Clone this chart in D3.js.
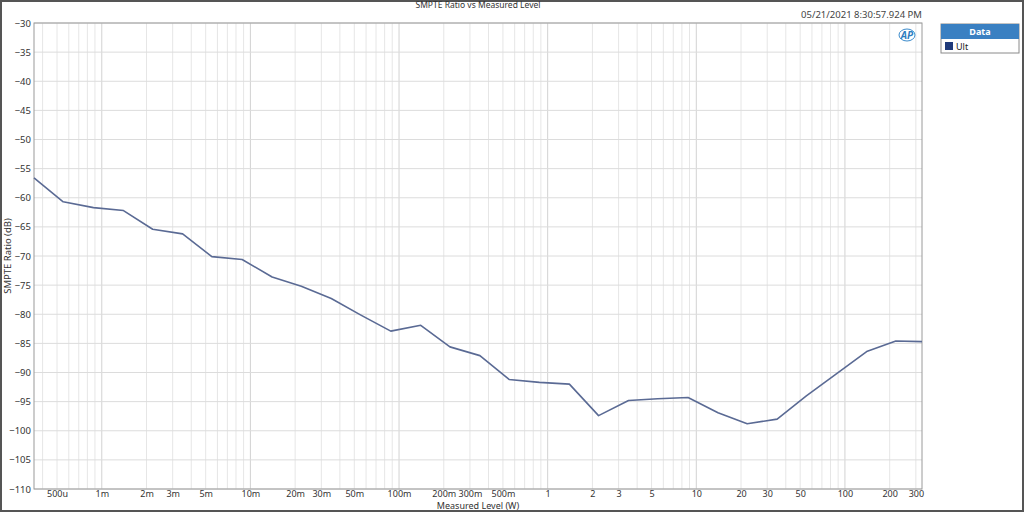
<!DOCTYPE html>
<html>
<head>
<meta charset="utf-8">
<script src="https://cdn.jsdelivr.net/npm/d3@7"></script>
<style>
	html, body { margin: 0; padding: 0; background: #fff; }
	svg { display: block; font-family: "Noto Sans", "Open Sans", sans-serif; }
</style>
</head>
<body>
<svg id="chart" width="1024" height="512"></svg>
<script>
(function (d3) {
	"use strict";

	/***** Data *****/

	// Measured level (W)
	var levels = [0.00035, 0.00055, 0.00088, 0.0014, 0.0022, 0.0035, 0.0055, 0.0088,
		0.014, 0.022, 0.035, 0.055, 0.088, 0.14, 0.22, 0.35, 0.55, 0.88,
		1.4, 2.2, 3.5, 5.5, 8.8, 14, 22, 35, 55, 88, 140, 220, 330];

	// SMPTE ratio (dB), series "Ult"
	var ratioUlt = [-56.6, -60.7, -61.7, -62.2, -65.4, -66.2, -70.1, -70.6,
		-73.6, -75.2, -77.3, -80.1, -82.9, -81.9, -85.6, -87.1, -91.2, -91.7,
		-92.0, -97.4, -94.8, -94.5, -94.3, -96.9, -98.8, -98.0, -94.0, -90.2, -86.4, -84.6, -84.7];

	// Tick labels
	var xTicks = [0.0005, 0.001, 0.002, 0.003, 0.005, 0.01, 0.02, 0.03, 0.05,
		0.1, 0.2, 0.3, 0.5, 1, 2, 3, 5, 10, 20, 30, 50, 100, 200, 300];
	var yTicks = [-30, -35, -40, -45, -50, -55, -60, -65, -70, -75, -80,
		-85, -90, -95, -100, -105, -110];

	var seriesNames = ["Ult"];
	var seriesColors = ["#1f3a7a"];

	/***** Layout *****/
	var svg = d3.select("#chart");
	const left = 34, right = 922, top = 23, bottom = 489;

	var x = d3.scaleLog().domain([0.00035, 330]).range([left, right]);
	var y = d3.scaleLinear().domain([-110, -30]).range([bottom, top]);

	// Label in SI units: u, m or plain
	function siLabel(v) {
		if (v < 0.001) return Math.round(v * 1e6) + "u";
		if (v < 1) return Math.round(v * 1e3) + "m";
		return String(v);
	}

	/***** Outer frame *****/
	svg.append("rect")
		.attr("x", 1).attr("y", 1).attr("width", 1022).attr("height", 510)
		.attr("fill", "none").attr("stroke", "#555").attr("stroke-width", 2);

	/***** Grid *****/
	var minor = [];
	for (var e = -4; e <= 2; e++) {
		for (var m = 1; m <= 9; m++) {
			var v = m * Math.pow(10, e);
			if (v >= 0.00035 && v <= 330) minor.push(v);
		}
	}

	var grid = svg.append("g");
	grid.selectAll("line.vx").data(minor).enter().append("line")
		.attr("x1", function (d) { return x(d); })
		.attr("x2", function (d) { return x(d); })
		.attr("y1", top).attr("y2", bottom)
		.attr("stroke", function (d) {
			var l = Math.log10(d);
			return Math.abs(l - Math.round(l)) < 1e-9 ? "#d2d2d2" : "#e6e6e6";
		})
		.attr("stroke-width", 1);

	grid.selectAll("line.hy").data(yTicks).enter().append("line")
		.attr("x1", left).attr("x2", right)
		.attr("y1", function (d) { return y(d); })
		.attr("y2", function (d) { return y(d); })
		.attr("stroke", "#dcdcdc").attr("stroke-width", 1);

	svg.append("rect")
		.attr("x", left).attr("y", top)
		.attr("width", right - left).attr("height", bottom - top)
		.attr("fill", "none").attr("stroke", "#9a9a9a").attr("stroke-width", 1);

	/***** Axes *****/
	var xAxis = d3.axisBottom(x).tickValues(xTicks).tickFormat(siLabel).tickSize(0).tickPadding(2);
	var gx = svg.append("g").attr("transform", "translate(0," + bottom + ")").call(xAxis);
	gx.select(".domain").remove();
	gx.selectAll("text").attr("fill", "#333").style("font-size", "9px")
		.style("font-family", "\"Noto Sans\", sans-serif");

	var yAxis = d3.axisLeft(y).tickValues(yTicks).tickSize(0).tickPadding(3);
	var gy = svg.append("g").attr("transform", "translate(" + left + ",0)").call(yAxis);
	gy.select(".domain").remove();
	gy.selectAll("text").attr("fill", "#333").style("font-size", "9.5px")
		.style("font-family", "\"Noto Sans\", sans-serif");

	/***** Line *****/
	var line = d3.line()
		.x(function (d, i) { return x(levels[i]); })
		.y(function (d) { return y(d); });

	svg.append("path")
		.datum(ratioUlt)
		.attr("d", line)
		.attr("fill", "none")
		.attr("stroke", "#5a6a94")
		.attr("stroke-width", 1.6)
		.attr("stroke-linejoin", "round");

	/***** Texts *****/
	svg.append("text")
		.attr("x", (left + right) / 2).attr("y", 8)
		.attr("text-anchor", "middle")
		.attr("fill", "#333").style("font-size", "8.5px")
		.text("SMPTE Ratio vs Measured Level");

	svg.append("text")
		.attr("x", right).attr("y", 18)
		.attr("text-anchor", "end")
		.attr("fill", "#444").style("font-size", "9.5px")
		.text("05/21/2021 8:30:57.924 PM");

	svg.append("text")
		.attr("x", (left + right) / 2).attr("y", 509)
		.attr("text-anchor", "middle")
		.attr("fill", "#333").style("font-size", "9px")
		.text("Measured Level (W)");

	svg.append("text")
		.attr("transform", "translate(11," + ((top + bottom) / 2) + ") rotate(-90)")
		.attr("text-anchor", "middle")
		.attr("fill", "#333").style("font-size", "9.5px")
		.text("SMPTE Ratio (dB)");

	// AP logo
	var logo = svg.append("g").attr("transform", "translate(907,35)");
	logo.append("ellipse").attr("rx", 8).attr("ry", 6)
		.attr("fill", "none").attr("stroke", "#3d8ccc").attr("stroke-width", 1);
	logo.append("text").attr("y", 3.5).attr("text-anchor", "middle")
		.attr("fill", "#2f7dc0").style("font-size", "10px")
		.style("font-weight", "bold").style("font-style", "italic")
		.text("AP");

	/***** Legend *****/
	var legend = svg.append("g").attr("transform", "translate(941,24)");
	legend.append("rect").attr("width", 78).attr("height", 29)
		.attr("fill", "#fff").attr("stroke", "#8a8a8a").attr("stroke-width", 1);
	legend.append("rect").attr("width", 78).attr("height", 15)
		.attr("fill", "#3a80c2");
	legend.append("text").attr("x", 39).attr("y", 11)
		.attr("text-anchor", "middle").attr("fill", "#fff")
		.style("font-size", "9px").style("font-weight", "bold")
		.text("Data");

	var rows = legend.selectAll("g.row").data(seriesNames).enter().append("g")
		.attr("transform", function (d, i) { return "translate(0," + (15 + i * 14) + ")"; });
	rows.append("rect").attr("x", 4).attr("y", 3).attr("width", 8).attr("height", 8)
		.attr("fill", function (d, i) { return seriesColors[i]; });
	rows.append("text").attr("x", 15).attr("y", 10.5)
		.attr("fill", "#222").style("font-size", "9px")
		.text(function (d) { return d; });

})(d3);
</script>
</body>
</html>
